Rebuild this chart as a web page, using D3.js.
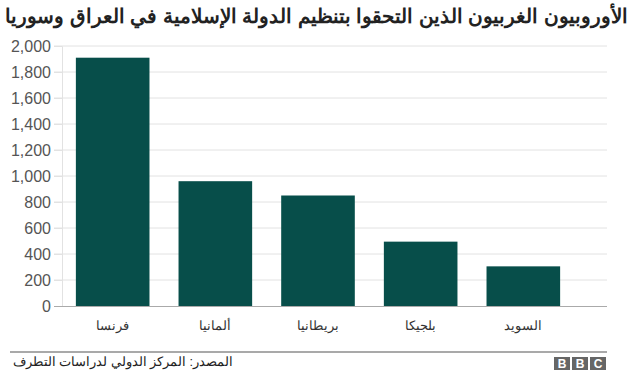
<!DOCTYPE html>
<html>
<head>
<meta charset="utf-8">
<script src="https://cdn.jsdelivr.net/npm/d3@7"></script>
<style>
  body { margin: 0; background: #fff; }
  svg { display: block; font-family: "Liberation Sans", Arial, sans-serif; }
</style>
</head>
<body>
<div id="chart"></div>
<script>
// بيانات الرسم
const title = "الأوروبيون الغربيون الذين التحقوا بتنظيم الدولة الإسلامية في العراق وسوريا";
const source = "المصدر: المركز الدولي لدراسات التطرف";
const countries = ["فرنسا", "ألمانيا", "بريطانيا", "بلجيكا", "السويد"];
const fighters = [1910, 960, 850, 495, 305];
const yTicks = [0, 200, 400, 600, 800, 1000, 1200, 1400, 1600, 1800, 2000];

const width = 640, height = 376;
const svg = d3.select("#chart").append("svg")
    .attr("width", width)
    .attr("height", height);

const x = d3.scaleBand()
    .domain(countries)
    .range([61.5, 574.5])
    .paddingInner(0.283)
    .paddingOuter(0.14);

const y = d3.scaleLinear()
    .domain([0, 2000])
    .range([306, 46]);

// العنوان (في اتجاه rtl تكون "start" على اليمين)
svg.append("text")
    .attr("x", 628)
    .attr("y", 23)
    .attr("text-anchor", "start")
    .attr("direction", "rtl")
    .style("font-size", "20px")
    .style("font-weight", "bold")
    .attr("fill", "#222")
    .text(title);

// خطوط الشبكة
svg.append("g")
    .selectAll("line")
    .data(yTicks.filter(d => d > 0))
    .enter().append("line")
    .attr("x1", 54)
    .attr("x2", 607)
    .attr("y1", d => y(d))
    .attr("y2", d => y(d))
    .attr("stroke", "#e2e2e2")
    .attr("stroke-width", 1);

// المحور العمودي
const yAxis = svg.append("g")
    .attr("transform", "translate(62,0)")
    .call(d3.axisLeft(y).tickValues(yTicks).tickSize(8).tickPadding(3).tickFormat(d3.format(",")));
yAxis.select(".domain").attr("stroke", "#e2e2e2");
yAxis.selectAll(".tick line").attr("stroke", "#e2e2e2");
yAxis.selectAll(".tick text")
    .attr("fill", "#555")
    .style("font-size", "16px")
    .style("font-family", "'Liberation Sans', Arial, sans-serif");

// الأعمدة
svg.append("g")
    .selectAll("rect")
    .data(countries)
    .enter().append("rect")
    .attr("x", d => x(d))
    .attr("width", x.bandwidth())
    .attr("y", (d, i) => y(fighters[i]))
    .attr("height", (d, i) => y(0) - y(fighters[i]))
    .attr("fill", "#074e4a");

// خط الصفر
svg.append("line")
    .attr("x1", 54).attr("x2", 607)
    .attr("y1", y(0) + 0.5).attr("y2", y(0) + 0.5)
    .attr("stroke", "#aaa");

// أسماء الدول
svg.append("g")
    .selectAll("text")
    .data(countries)
    .enter().append("text")
    .attr("x", d => x(d) + x.bandwidth() / 2)
    .attr("y", 330)
    .attr("text-anchor", "middle")
    .style("font-size", "13px")
    .attr("fill", "#333")
    .text(d => d);

// التذييل
svg.append("line")
    .attr("x1", 10).attr("x2", 607)
    .attr("y1", 352).attr("y2", 352)
    .attr("stroke", "#555")
    .attr("stroke-width", 1.2);

svg.append("text")
    .attr("x", 233)
    .attr("y", 366)
    .attr("text-anchor", "start")
    .attr("direction", "rtl")
    .style("font-size", "12.5px")
    .attr("fill", "#222")
    .text(source);

// شعار BBC
const logo = svg.append("g").attr("transform", "translate(554,357)");
["B", "B", "C"].forEach((ch, i) => {
    logo.append("rect")
        .attr("x", i * 18).attr("y", 0)
        .attr("width", 16).attr("height", 13)
        .attr("fill", "#666");
    logo.append("text")
        .attr("x", i * 18 + 8).attr("y", 11)
        .attr("text-anchor", "middle")
        .style("font-size", "12px")
        .style("font-weight", "bold")
        .attr("fill", "#fff")
        .text(ch);
});
</script>
</body>
</html>
